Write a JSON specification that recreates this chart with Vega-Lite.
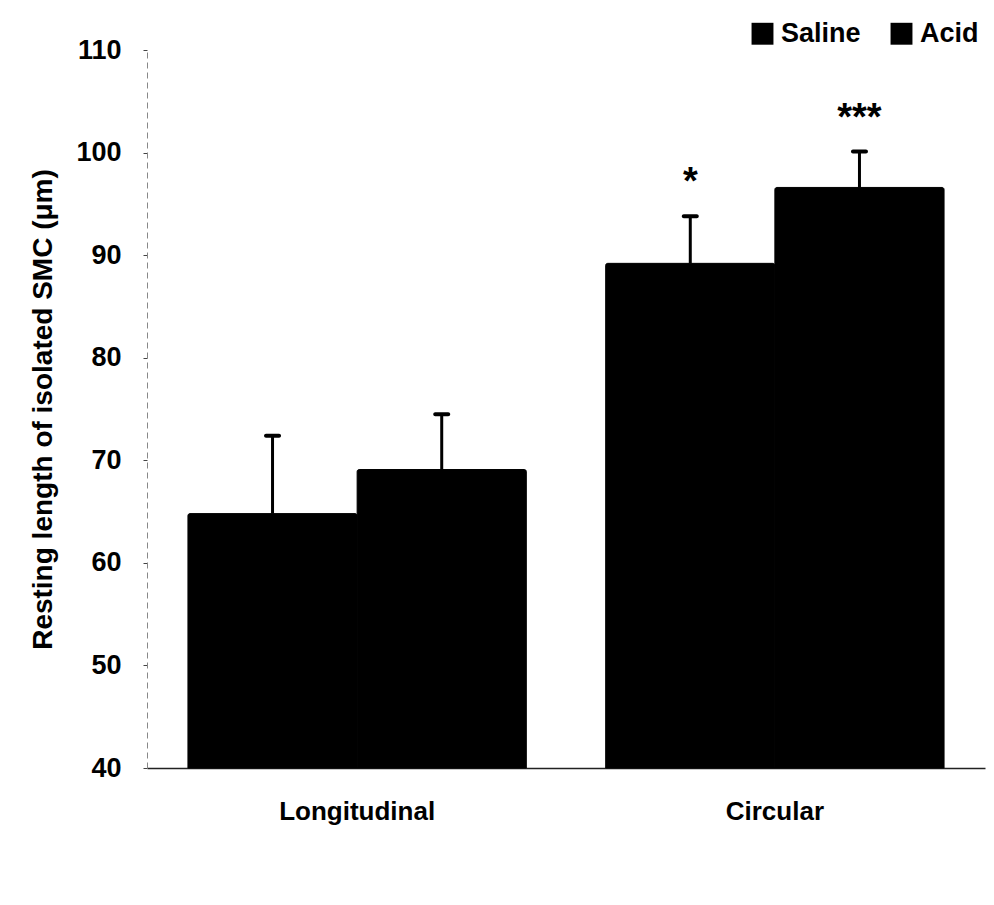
{
  "$schema": "https://vega.github.io/schema/vega-lite/v6.json",
  "autosize": "none",
  "width": 838,
  "height": 718,
  "padding": {"left": 147, "top": 50, "right": 9, "bottom": 137},
  "background": "white",
  "config": {
    "view": {"stroke": null},
    "font": "Liberation Sans"
  },
  "data": {
    "values": [
      {"tissue": "Longitudinal", "group": "Saline", "mean": 64.8, "upper": 72.4, "sig": ""},
      {"tissue": "Longitudinal", "group": "Acid", "mean": 69.1, "upper": 74.5, "sig": ""},
      {"tissue": "Circular", "group": "Saline", "mean": 89.2, "upper": 93.8, "sig": "*"},
      {"tissue": "Circular", "group": "Acid", "mean": 96.6, "upper": 100.1, "sig": "***"}
    ]
  },
  "encoding": {
    "x": {
      "field": "tissue",
      "type": "nominal",
      "sort": ["Longitudinal", "Circular"],
      "scale": {"paddingInner": 0.19, "paddingOuter": 0.098},
      "axis": {
        "title": null,
        "labelAngle": 0,
        "labelFont": "Liberation Sans",
        "labelFontWeight": "bold",
        "labelFontSize": 26,
        "labelColor": "black",
        "labelPadding": 30,
        "ticks": false,
        "domainColor": "#222",
        "domainWidth": 1.5
      }
    },
    "xOffset": {
      "field": "group",
      "type": "nominal",
      "sort": ["Saline", "Acid"],
      "scale": {"paddingInner": 0, "paddingOuter": 0}
    }
  },
  "layer": [
    {
      "mark": {"type": "bar", "cornerRadiusTopLeft": 2, "cornerRadiusTopRight": 2, "stroke": "black", "strokeWidth": 1},
      "encoding": {
        "y": {
          "field": "mean",
          "type": "quantitative",
          "scale": {"domain": [40, 110], "zero": false, "nice": false},
          "axis": {
            "title": "Resting length of isolated SMC (μm)",
            "titleFont": "Liberation Sans",
            "titleFontWeight": "bold",
            "titleFontSize": 28,
            "titleColor": "black",
            "titlePadding": 18,
            "values": [40, 50, 60, 70, 80, 90, 100, 110],
            "labelFont": "Liberation Sans",
            "labelFontWeight": "bold",
            "labelFontSize": 27,
            "labelColor": "black",
            "labelPadding": 22,
            "tickSize": 4,
            "tickColor": "#444",
            "domainColor": "#888",
            "domainDash": [6, 4],
            "grid": false
          }
        },
        "y2": {"datum": 40},
        "color": {
          "field": "group",
          "type": "nominal",
          "sort": ["Saline", "Acid"],
          "scale": {"range": ["black", "black"]},
          "legend": {
            "title": null,
            "orient": "none",
            "legendX": 602,
            "legendY": -30,
            "direction": "horizontal",
            "symbolType": "square",
            "symbolSize": 480,
            "symbolStrokeWidth": 0,
            "symbolOpacity": 1,
            "labelFont": "Liberation Sans",
            "labelFontWeight": "bold",
            "labelFontSize": 27,
            "labelColor": "black",
            "labelOffset": 5,
            "columnPadding": 27
          }
        }
      }
    },
    {
      "mark": {"type": "rule", "strokeWidth": 3, "color": "black"},
      "encoding": {
        "y": {"field": "mean", "type": "quantitative"},
        "y2": {"field": "upper"}
      }
    },
    {
      "mark": {"type": "tick", "size": 17, "thickness": 4, "color": "black", "opacity": 1, "cornerRadius": 2},
      "encoding": {
        "y": {"field": "upper", "type": "quantitative"}
      }
    },
    {
      "mark": {
        "type": "text",
        "font": "Liberation Sans",
        "fontWeight": "bold",
        "fontSize": 38,
        "color": "black",
        "baseline": "alphabetic",
        "dy": -22
      },
      "encoding": {
        "y": {"field": "upper", "type": "quantitative"},
        "text": {"field": "sig"}
      }
    }
  ]
}
